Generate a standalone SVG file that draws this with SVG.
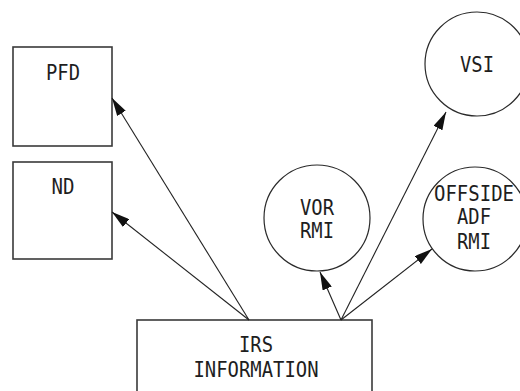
<svg xmlns="http://www.w3.org/2000/svg" width="520" height="391" viewBox="0 0 520 391">
  <style>
    .box { fill: #ffffff; stroke: #3a3a3a; stroke-width: 1.6; }
    .ring { fill: #ffffff; stroke: #2a2a2a; stroke-width: 1.2; }
    .lbl { font-family: "DejaVu Sans Mono", "Liberation Mono", monospace; font-size: 20.5px; fill: #1e1e1e; text-anchor: middle; }
    .wire { fill: none; stroke: #222222; stroke-width: 1.1; marker-end: url(#head); }
  </style>
  <defs>
    <marker id="head" markerUnits="userSpaceOnUse" markerWidth="18" markerHeight="10" refX="18" refY="5" orient="auto">
      <path d="M0,0 L18,5 L0,10 z" fill="#111111"/>
    </marker>
  </defs>
  <rect width="520" height="391" fill="#ffffff"/>

  <g id="pfd">
    <rect class="box" x="13" y="47" width="99" height="99"/>
    <text class="lbl" x="63" y="80" textLength="34" lengthAdjust="spacingAndGlyphs">PFD</text>
  </g>
  <g id="nd">
    <rect class="box" x="13" y="162" width="99" height="97"/>
    <text class="lbl" x="63" y="194" textLength="23" lengthAdjust="spacingAndGlyphs">ND</text>
  </g>
  <g id="vsi">
    <circle class="ring" cx="477" cy="64" r="52"/>
    <text class="lbl" x="477" y="72" textLength="34" lengthAdjust="spacingAndGlyphs">VSI</text>
  </g>
  <g id="vor-rmi">
    <circle class="ring" cx="317" cy="218" r="53"/>
    <text class="lbl" x="317" y="215" textLength="34" lengthAdjust="spacingAndGlyphs">VOR</text>
    <text class="lbl" x="317" y="238" textLength="34" lengthAdjust="spacingAndGlyphs">RMI</text>
  </g>
  <g id="offside-adf-rmi">
    <circle class="ring" cx="475" cy="219" r="52"/>
    <text class="lbl" x="474" y="201" textLength="80" lengthAdjust="spacingAndGlyphs">OFFSIDE</text>
    <text class="lbl" x="474" y="224" textLength="34" lengthAdjust="spacingAndGlyphs">ADF</text>
    <text class="lbl" x="474" y="249" textLength="34" lengthAdjust="spacingAndGlyphs">RMI</text>
  </g>
  <g id="irs">
    <rect class="box" x="137" y="320" width="235" height="80"/>
    <text class="lbl" x="256" y="352" textLength="34" lengthAdjust="spacingAndGlyphs">IRS</text>
    <text class="lbl" x="256" y="377" textLength="125" lengthAdjust="spacingAndGlyphs">INFORMATION</text>
  </g>

  <g id="connectors">
    <line class="wire" x1="249" y1="320" x2="112" y2="98"/>
    <line class="wire" x1="249" y1="320" x2="112" y2="212"/>
    <line class="wire" x1="341" y1="320" x2="320" y2="272"/>
    <line class="wire" x1="341" y1="320" x2="446" y2="112"/>
    <line class="wire" x1="341" y1="320" x2="432" y2="249"/>
  </g>
</svg>
